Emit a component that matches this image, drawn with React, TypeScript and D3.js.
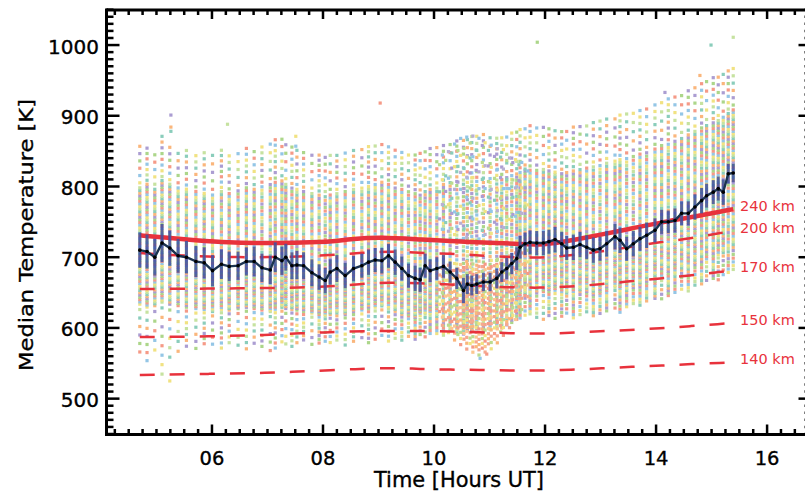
import React from 'react';
import * as d3 from 'd3';

// ---------- median temperature (navy line with error bars) ----------
const medianTimes = [
  4.70, 4.83, 4.97, 5.10, 5.24, 5.39, 5.54, 5.71, 5.86,
  6.01, 6.17, 6.31, 6.47, 6.62, 6.76, 6.90, 7.05, 7.14, 7.26, 7.33, 7.44, 7.53, 7.65, 7.80, 7.93,
  8.04, 8.13, 8.25, 8.40, 8.55, 8.70, 8.82, 8.94, 9.06, 9.18, 9.30, 9.42, 9.54, 9.66, 9.75, 9.84, 9.93,
  10.05, 10.17, 10.29, 10.41, 10.53, 10.60, 10.68, 10.77, 10.89, 11.01, 11.13, 11.22, 11.31, 11.40, 11.49, 11.55, 11.64, 11.73,
  11.85, 11.97, 12.07, 12.18, 12.30, 12.39, 12.51, 12.63, 12.75, 12.87, 12.99, 13.11,
  13.26, 13.35, 13.47, 13.59, 13.71, 13.83, 13.98, 14.10, 14.22, 14.34,
  14.46, 14.58, 14.70, 14.82, 14.91, 15.03, 15.12, 15.21, 15.30, 15.39,
];
const medianTemps = [
  710, 708, 700, 720, 713, 702, 700, 694, 692,
  681, 690, 687, 688, 694, 694, 685, 682, 700, 695, 700, 688, 689, 688, 678, 672,
  667, 679, 684, 674, 684, 688, 693, 696, 695, 702, 693, 684, 674, 670, 668, 688, 681,
  684, 687, 679, 670, 653, 662, 660, 662, 665, 665, 670, 679, 684, 691, 698, 714, 719, 721,
  720, 720, 722, 725, 719, 713, 714, 718, 714, 710, 712, 719,
  729, 724, 712, 719, 726, 731, 738, 750, 750, 752,
  762, 762, 771, 780, 787, 792, 797, 792, 818, 819,
];
const medianErrors = [
  25, 24, 26, 27, 25, 24, 23, 22, 22,
  22, 21, 21, 20, 20, 21, 20, 20, 21, 20, 19, 19, 20, 19, 19, 18,
  18, 18, 19, 18, 18, 17, 18, 17, 18, 17, 18, 17, 17, 18, 17, 17, 16,
  16, 16, 15, 15, 18, 14, 14, 14, 13, 13, 14, 14, 15, 15, 16, 16, 16, 17,
  17, 17, 17, 18, 17, 17, 18, 18, 17, 18, 17, 18,
  18, 18, 17, 18, 17, 18, 17, 17, 16, 17,
  17, 17, 18, 18, 17, 17, 17, 18, 14, 13,
];

// ---------- per-column spread of the individual measurements ----------
const columnLow = [
  560, 548, 562, 528, 552, 560, 570, 566, 574,
  572, 568, 575, 570, 566, 574, 570, 562, 568, 576, 572, 570, 575, 580, 572, 576,
  578, 575, 580, 572, 578, 582, 576, 580, 585, 578, 582, 580, 585, 582, 588, 584, 590,
  590, 588, 595, 592, 590, 596, 594, 598, 592, 596, 600, 598, 602, 606, 610, 612, 615, 618,
  612, 608, 615, 610, 614, 618, 612, 616, 620, 615, 618, 622,
  625, 620, 628, 632, 630, 636, 640, 638, 644, 648,
  652, 650, 658, 660, 664, 668, 665, 672, 676, 680,
];
const columnCoreLow = [
  632, 628, 630, 635, 632, 630, 628, 626, 625,
  622, 625, 624, 626, 628, 626, 624, 622, 625, 628, 626, 625, 624, 622, 620, 618,
  616, 618, 620, 618, 622, 624, 626, 628, 630, 626, 622, 618, 616, 614, 620, 618, 620,
  615, 612, 610, 608, 605, 605, 605, 606, 608, 610, 614, 620, 625, 630, 636, 640, 645, 648,
  648, 650, 650, 652, 650, 648, 648, 650, 648, 646, 648, 652,
  656, 655, 652, 656, 660, 662, 665, 670, 672, 675,
  680, 682, 688, 692, 696, 700, 702, 705, 710, 712,
];
const columnCoreHigh = [
  800, 805, 798, 810, 805, 800, 798, 795, 792,
  790, 795, 792, 796, 800, 798, 802, 805, 808, 810, 805, 800, 798, 795, 792, 790,
  788, 790, 792, 795, 798, 800, 802, 805, 808, 805, 800, 798, 795, 792, 790, 795, 798,
  800, 805, 808, 810, 812, 815, 815, 816, 815, 814, 812, 812, 815, 818, 820, 822, 824, 825,
  825, 826, 824, 822, 820, 822, 824, 826, 828, 830, 832, 835,
  838, 840, 842, 845, 848, 850, 855, 860, 862, 866,
  870, 875, 880, 885, 888, 892, 895, 900, 905, 910,
];
const columnHigh = [
  862, 858, 850, 875, 860, 852, 855, 848, 852,
  850, 855, 848, 852, 858, 854, 860, 866, 870, 872, 865, 860, 856, 852, 850, 848,
  846, 850, 848, 852, 855, 858, 860, 862, 865, 860, 856, 852, 850, 848, 852, 855, 858,
  860, 862, 865, 868, 870, 872, 875, 876, 878, 875, 872, 874, 876, 880, 882, 885, 888, 890,
  888, 890, 886, 884, 882, 884, 888, 890, 892, 895, 898, 900,
  902, 905, 908, 910, 912, 915, 920, 925, 928, 932,
  935, 940, 945, 950, 955, 958, 960, 965, 968, 972,
];

// ---------- dense cloud of extra measurements around 10-12 UT ----------
const cloudTimes = [
  10.10, 10.15, 10.21, 10.26, 10.32, 10.37, 10.43, 10.48, 10.54, 10.59,
  10.65, 10.70, 10.76, 10.81, 10.87, 10.92, 10.98, 11.03, 11.09, 11.14,
  11.20, 11.25, 11.31, 11.36, 11.42, 11.47, 11.53, 11.58, 11.64, 11.69,
];
const cloudLow = [
  618, 598, 606, 588, 594, 578, 586, 572, 580, 566,
  574, 562, 570, 558, 568, 562, 574, 566, 580, 574,
  590, 584, 600, 594, 612, 606, 624, 618, 640, 636,
];
const cloudHigh = [
  680, 690, 684, 694, 686, 696, 688, 694, 686, 698,
  690, 694, 686, 698, 690, 694, 688, 700, 692, 702,
  696, 706, 700, 708, 702, 712, 706, 714, 708, 718,
];
const cloudCount = [
  6, 8, 7, 10, 9, 12, 11, 14, 13, 16,
  15, 18, 17, 19, 18, 17, 16, 15, 14, 13,
  12, 11, 10, 9, 8, 9, 7, 6, 6, 5,
];
const cloudUpperLow = [
  735, 722, 738, 718, 730, 716, 728, 712, 726, 714,
  724, 710, 722, 714, 726, 716, 730, 718, 734, 722,
  740, 728, 744, 732, 748, 738, 752, 744, 758, 750,
];
const cloudUpperHigh = [
  850, 862, 848, 868, 858, 876, 862, 880, 868, 884,
  872, 886, 866, 880, 870, 878, 862, 874, 858, 868,
  856, 866, 850, 862, 846, 858, 842, 852, 838, 846,
];
const cloudUpperCount = [
  3, 4, 5, 4, 6, 5, 6, 7, 5, 6,
  7, 6, 5, 7, 6, 5, 6, 5, 4, 5,
  4, 5, 4, 3, 4, 3, 4, 3, 3, 2,
];

// ---------- isolated outliers ----------
const outlierTimes = [5.26, 5.26, 5.26, 6.28, 7.51, 7.51, 9.03, 11.86, 14.16, 14.79, 14.99, 15.39, 5.24, 10.83, 10.95];
const outlierTemps = [901, 884, 878, 888, 871, 857, 918, 1004, 933, 957, 1000, 1011, 525, 557, 563];

// ---------- model temperatures at fixed altitudes (red) ----------
const model240Times = [4.70, 5.12, 5.70, 6.30, 6.90, 7.50, 7.95, 8.13, 8.54, 9.03, 9.75, 10.65, 11.55, 11.86, 12.32, 12.94, 13.53, 14.13, 14.74, 15.39];
const model240Temps = [731, 728, 724, 720.5, 720, 720.5, 721.5, 722, 726, 728.5, 725, 721.5, 719, 717, 721.5, 731, 740, 750, 758, 768];
const model200Times = [4.70, 5.38, 5.93, 6.47, 7.02, 7.56, 8.12, 8.65, 9.20, 9.74, 10.28, 10.82, 11.37, 11.91, 12.45, 12.99, 13.53, 14.07, 14.61, 15.16, 15.39];
const model200Temps = [706, 702.5, 701, 700, 700, 701, 703, 706, 708.5, 706, 705, 702.5, 700, 699, 702.5, 708, 714, 721.5, 726, 734.5, 737];
const model170Times = [4.70, 5.38, 5.93, 6.47, 7.02, 7.56, 8.12, 8.65, 9.20, 9.74, 10.28, 10.82, 11.37, 11.91, 12.45, 12.99, 13.53, 14.07, 14.61, 15.16, 15.39];
const model170Temps = [655, 655.5, 655.5, 656, 656.5, 657, 658.5, 662, 664.5, 663, 661.5, 659, 657.5, 656.5, 658.5, 661.5, 666, 670, 674, 679, 682];
const model150Times = [4.70, 4.85, 5.93, 7.02, 7.61, 8.12, 8.65, 9.74, 10.28, 10.82, 11.37, 11.91, 12.45, 12.99, 13.53, 14.07, 14.61, 15.16, 15.39];
const model150Temps = [587, 587, 588, 590, 592.5, 594, 595.3, 596, 595, 594, 592.5, 591.6, 593, 595.5, 597, 599.6, 602.4, 605.7, 607];
const model140Times = [4.70, 4.85, 5.93, 7.02, 7.70, 8.63, 9.27, 9.74, 10.28, 10.82, 11.37, 11.91, 12.47, 13.02, 13.57, 14.10, 14.65, 15.20, 15.39];
const model140Temps = [533.5, 533.6, 535, 536.4, 538.7, 542, 543.5, 542, 541, 540.6, 539.7, 539.7, 540.6, 543, 545, 546.7, 549, 550.6, 551.5];
const modelLabels = ['240 km', '200 km', '170 km', '150 km', '140 km'];

// ---------- axes ----------
const xMajorTicks = [6, 8, 10, 12, 14, 16];
const yMajorTicks = [500, 600, 700, 800, 900, 1000];

const palette = ['#f59a87', '#fab67c', '#f1e282', '#acd68a', '#8acdbb', '#94c6e6', '#ab9dd2', '#c6e2a0'];
const warm = ['#f59a87', '#fab67c', '#f1e282', '#f7a98f', '#bcdc8e', '#fbc690', '#f3a58c'];
const cool = ['#ab9dd2', '#94c6e6', '#8acdbb', '#b9b0d2', '#bcdc8e', '#f1e282'];
const tailPattern = [6, 7, 5, 8, 6, 5, 7];
const corePattern = [24, 27, 25, 28, 26];

const RED = '#e8323c';
const FONT = '"DejaVu Sans", Verdana, sans-serif';

function spread(lo: number, hi: number, n: number): number[] {
  const out: number[] = [];
  for (let k = 0; k < n; k++) out.push(lo + (hi - lo) * (k + 0.5) / n);
  return out;
}

export default function App() {
  const x = d3.scaleLinear().domain([4.1, 16.8]).range([106.5, 811.5]);
  const y = d3.scaleLinear().domain([450, 1050]).range([434, 9.7]);

  // scatter squares
  const pts: { px: number; py: number; c: string }[] = [];
  medianTimes.forEach((t, i) => {
    const med = medianTemps[i];
    const nt = tailPattern[i % tailPattern.length];
    const nc = corePattern[i % corePattern.length];
    const vals = [
      ...spread(columnLow[i], columnCoreLow[i], nt),
      ...spread(columnCoreLow[i], med, nc),
      ...spread(med, columnCoreHigh[i], nc),
      ...spread(columnCoreHigh[i], columnHigh[i], nt),
    ];
    vals.forEach((v, k) => {
      pts.push({ px: x(t), py: y(v), c: palette[(k * 3 + i * 5) % palette.length] });
    });
  });
  cloudTimes.forEach((t, i) => {
    spread(cloudLow[i], cloudHigh[i], cloudCount[i]).forEach((v, k) => {
      pts.push({ px: x(t), py: y(v), c: warm[(k * 2 + i * 3) % warm.length] });
    });
    spread(cloudUpperLow[i], cloudUpperHigh[i], cloudUpperCount[i]).forEach((v, k) => {
      pts.push({ px: x(t), py: y(v), c: cool[(k * 2 + i) % cool.length] });
    });
  });
  outlierTimes.forEach((t, i) => {
    pts.push({ px: x(t), py: y(outlierTemps[i]), c: palette[(i * 3 + 6) % palette.length] });
  });

  const smooth = d3.line<[number, number]>().x(d => x(d[0])).y(d => y(d[1])).curve(d3.curveBasis);
  const models: [number[], number[]][] = [
    [model240Times, model240Temps],
    [model200Times, model200Temps],
    [model170Times, model170Temps],
    [model150Times, model150Temps],
    [model140Times, model140Temps],
  ];
  const modelPaths = models.map(([ts, vs]) => smooth(ts.map((t, i) => [t, vs[i]] as [number, number])) || '');

  const medLine = d3.line<[number, number]>().x(d => x(d[0])).y(d => y(d[1]))(
    medianTimes.map((t, i) => [t, medianTemps[i]] as [number, number])
  ) || '';

  const [x0, x1] = x.range();
  const yb = 434.5, yt = 10;

  const yMinor = d3.range(450, 1051, 10).filter(v => v % 100 !== 0);
  const xMinor = d3.range(4.25, 16.8, 0.25).filter(v => Math.abs(v / 2 - Math.round(v / 2)) > 1e-6);

  return (
    <svg width={805} height={495} style={{ position: 'absolute', left: 0, top: 0, display: 'block', background: '#fff' }}>
      <rect x={0} y={0} width={805} height={495} fill="#fff" />
      {/* scatter */}
      <g>
        {pts.map((p, i) => (
          <rect key={i} x={p.px - 1.6} y={p.py - 1.6} width={3.2} height={3.2} fill={p.c} />
        ))}
      </g>
      {/* model curves */}
      {modelPaths.map((d, i) => (
        <path key={i} d={d} fill="none" stroke={RED}
          strokeWidth={i === 0 ? 4.5 : 2.5}
          strokeDasharray={i === 0 ? undefined : '15 15'} />
      ))}
      {/* error bars */}
      <g stroke="#4150a0" strokeWidth={3} opacity={0.85}>
        {medianTimes.map((t, i) => (
          <line key={i} x1={x(t)} x2={x(t)} y1={y(medianTemps[i] - medianErrors[i])} y2={y(medianTemps[i] + medianErrors[i])} />
        ))}
      </g>
      <path d={medLine} fill="none" stroke="#1b3350" strokeWidth={2.4} />
      <g fill="#000">
        {medianTimes.map((t, i) => (
          <circle key={i} cx={x(t)} cy={y(medianTemps[i])} r={1.8} />
        ))}
      </g>
      {/* model labels */}
      {modelLabels.map((lab, i) => {
        const vs = models[i][1];
        return (
          <text key={lab} x={740} y={y(vs[vs.length - 1]) + 2} fill={RED} fontFamily={FONT} fontSize={14.5}>{lab}</text>
        );
      })}
      {/* frame */}
      <g stroke="#000" strokeLinecap="butt">
        <line x1={x0} x2={x0} y1={yt - 1.5} y2={yb + 1.5} strokeWidth={3} />
        <line x1={x1} x2={x1} y1={yt - 1.5} y2={yb + 1.5} strokeWidth={3} />
        <line x1={x0} x2={x1} y1={yt} y2={yt} strokeWidth={3} />
        <line x1={x0} x2={x1} y1={yb} y2={yb} strokeWidth={3} />
        {yMajorTicks.map(v => (
          <g key={'ym' + v}>
            <line x1={x0} x2={x0 + 13} y1={y(v)} y2={y(v)} strokeWidth={2.5} />
            <line x1={x1} x2={x1 - 13} y1={y(v)} y2={y(v)} strokeWidth={2.5} />
          </g>
        ))}
        {yMinor.map(v => (
          <g key={'yn' + v}>
            <line x1={x0} x2={x0 + 7} y1={y(v)} y2={y(v)} strokeWidth={2.5} />
            <line x1={x1} x2={x1 - 7} y1={y(v)} y2={y(v)} strokeWidth={2.5} />
          </g>
        ))}
        {xMajorTicks.map(v => (
          <g key={'xm' + v}>
            <line x1={x(v)} x2={x(v)} y1={yb} y2={yb - 10} strokeWidth={2.5} />
            <line x1={x(v)} x2={x(v)} y1={yt} y2={yt + 9} strokeWidth={2.5} />
          </g>
        ))}
        {xMinor.map(v => (
          <g key={'xn' + v}>
            <line x1={x(v)} x2={x(v)} y1={yb} y2={yb - 5.5} strokeWidth={2.5} />
            <line x1={x(v)} x2={x(v)} y1={yt} y2={yt + 5} strokeWidth={2.5} />
          </g>
        ))}
      </g>
      {/* tick labels */}
      <g fontFamily={FONT} fontSize={20} fill="#000" stroke="#000" strokeWidth={0.35}>
        {yMajorTicks.map(v => (
          <text key={'yl' + v} x={99} y={y(v) + 8.5} textAnchor="end">{v}</text>
        ))}
        {xMajorTicks.map(v => (
          <text key={'xl' + v} x={x(v)} y={465} textAnchor="middle" fontSize={19.5}>{d3.format('02d')(v)}</text>
        ))}
        <text x={(x0 + x1) / 2} y={487} textAnchor="middle" fontSize={20.5} textLength={170} lengthAdjust="spacingAndGlyphs">Time [Hours UT]</text>
        <text transform="translate(33,235) rotate(-90)" textAnchor="middle" fontSize={20} textLength={272} lengthAdjust="spacingAndGlyphs">Median Temperature [K]</text>
      </g>
    </svg>
  );
}
